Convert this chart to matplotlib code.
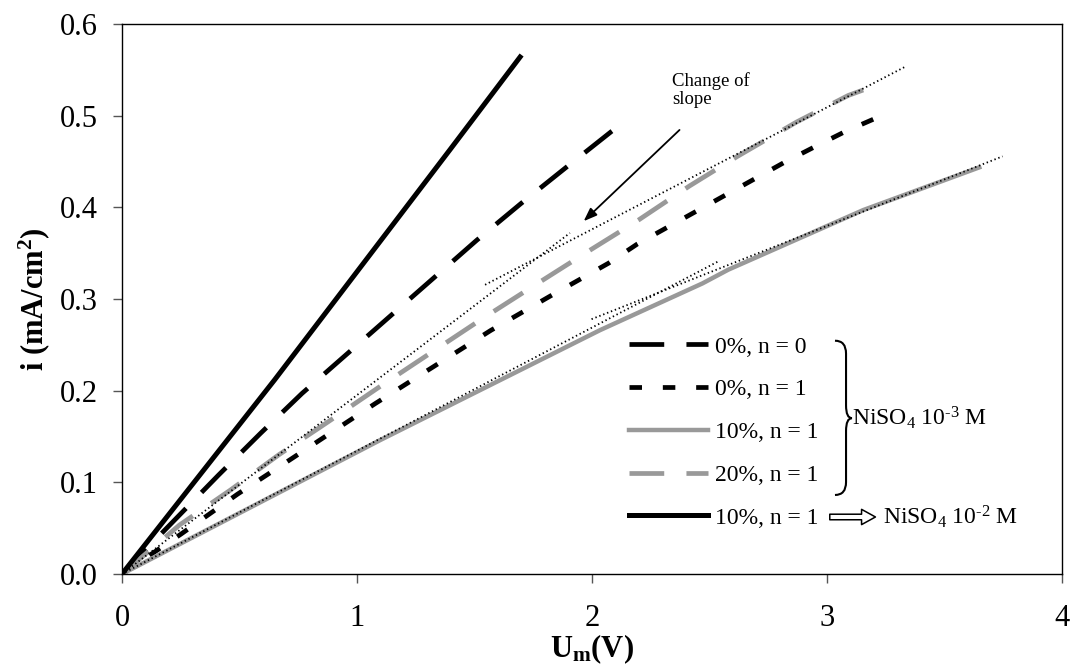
import numpy as np
import matplotlib
matplotlib.use("Agg")
import matplotlib.pyplot as plt
from matplotlib.path import Path
from matplotlib.patches import PathPatch, FancyArrowPatch

plt.rcParams['font.family'] = ['Liberation Serif', 'DejaVu Serif']
plt.rcParams['mathtext.fontset'] = 'custom'
plt.rcParams['mathtext.rm'] = 'Liberation Serif'
plt.rcParams['mathtext.it'] = 'Liberation Serif:italic'
plt.rcParams['mathtext.bf'] = 'Liberation Serif:bold'
plt.rcParams['lines.scale_dashes'] = False

# data (U in V, i in mA/cm2)
U_0_n0 = [0, 0.238, 0.411, 0.590, 0.766, 1.509, 1.697, 1.892, 2.084, 2.148]
i_0_n0 = [0, 0.0626, 0.108, 0.1536, 0.197, 0.364, 0.404, 0.444, 0.483, 0.495]

U_0_n1 = [0, 0.252, 0.491, 0.720, 0.957, 1.078, 1.569, 1.821, 2.070, 2.193, 2.821, 2.952, 3.080, 3.200]
i_0_n1 = [0, 0.0437, 0.087, 0.1255, 0.1656, 0.186, 0.2657, 0.303, 0.339, 0.360, 0.4494, 0.4666, 0.483, 0.4964]

U_10 = [0, 1.098, 2.034, 2.47, 2.58, 3.154, 3.648]
i_10 = [0, 0.146, 0.266, 0.317, 0.332, 0.397, 0.4436]

U_20 = [0, 0.245, 0.462, 0.667, 0.877, 1.089, 1.53, 1.75, 1.99, 2.197, 2.413, 2.615, 2.87, 3.09, 3.154]
i_20 = [0, 0.0535, 0.0917, 0.130, 0.166, 0.203, 0.278, 0.314, 0.353, 0.386, 0.423, 0.455, 0.493, 0.522, 0.528]

U_10_2 = [0, 0.65, 1.396, 1.694]
i_10_2 = [0, 0.212, 0.463, 0.564]

# dotted linear fits (two slopes each)
fit20_U = [[0, 1.906], [1.545, 3.33]]
fit20_i = [[0, 0.372], [0.3155, 0.553]]
fit10_U = [[0, 2.537], [1.998, 3.747]]
fit10_i = [[0, 0.341], [0.278, 0.4556]]

labels = ['0%, n = 0', '0%, n = 1', '10%, n = 1', '20%, n = 1', '10%, n = 1']

grey = '#999999'

fig = plt.figure(figsize=(10.72, 6.66), dpi=100)
ax = fig.add_axes([122/1072, 1-574/666, 940/1072, 550/666])

h1, = ax.plot(U_0_n0, i_0_n0, color='black', lw=3.4, linestyle=(0, (25, 16)))
h2, = ax.plot(U_0_n1, i_0_n1, color='black', lw=3.4, linestyle=(0, (9, 15)))
h3, = ax.plot(U_10, i_10, color=grey, lw=3.2)
h4, = ax.plot(U_20, i_20, color=grey, lw=3.4, linestyle=(0, (25, 16)))
h5, = ax.plot(U_10_2, i_10_2, color='black', lw=3.6)

for uu, ii in zip(fit20_U + fit10_U, fit20_i + fit10_i):
    ax.plot(uu, ii, color='black', lw=1.3, linestyle=(0, (1, 2)))

ax.set_xlim(0, 4)
ax.set_ylim(0, 0.6)
ax.set_xticks([0, 1, 2, 3, 4])
ax.set_yticks(np.arange(0, 0.61, 0.1))
ax.set_yticklabels(['%.1f' % v for v in np.arange(0, 0.61, 0.1)])
ax.tick_params(direction='out', length=6.5, width=1, color='#555555', labelsize=22)
ax.tick_params(axis='y', pad=11)
ax.tick_params(axis='x', pad=15)
for s in ax.spines.values():
    s.set_linewidth(1)

ax.set_xlabel(r'$\mathbf{U_m}$(V)', fontsize=22, fontweight='bold')
ax.xaxis.set_label_coords(0.5, -0.106)
ax.set_ylabel(r'i (mA/cm$^\mathbf{2}$)', fontsize=22, fontweight='bold')
ax.yaxis.set_label_coords(-0.0745, 0.5)

leg = ax.legend([h1, h2, h3, h4, h5], labels, loc='upper left',
                bbox_to_anchor=((629-122)/940, (574-336)/550), frameon=False,
                fontsize=17, handlelength=3.35, handletextpad=0.3,
                labelspacing=0.9, borderpad=0, borderaxespad=0)

# annotation
ax.annotate('', xy=(1.956, 0.3828), xytext=(2.381, 0.4865),
            arrowprops=dict(arrowstyle='-|>,head_length=0.8,head_width=0.3', color='black', lw=1.3))
ax.text(2.34, 0.548, 'Change of\nslope', fontsize=13.5, ha='left', va='top', linespacing=1.15)

# brace grouping the first four series
bx, bw, bt, bb, bm, r = 3.034, 0.047, 0.2545, 0.0862, 0.170, 0.014
verts = [(bx, bt), (bx+bw, bt), (bx+bw, bt-r),
         (bx+bw, bm+r), (bx+bw, bm), (bx+0.072, bm),
         (bx+bw, bm), (bx+bw, bm-r),
         (bx+bw, bb+r), (bx+bw, bb), (bx, bb)]
codes = [Path.MOVETO, Path.CURVE3, Path.CURVE3,
         Path.LINETO, Path.CURVE3, Path.CURVE3,
         Path.CURVE3, Path.CURVE3,
         Path.LINETO, Path.CURVE3, Path.CURVE3]
ax.add_patch(PathPatch(Path(verts, codes), fc='none', ec='black', lw=1.5))
ax.text(3.108, 0.170, r'NiSO$_4$ 10$^{\text{-3}}$ M', fontsize=17, ha='left', va='center')

arr = FancyArrowPatch((3.0, 0.0622), (3.218, 0.0622),
                      arrowstyle='simple,head_length=10,head_width=11,tail_width=4',
                      mutation_scale=1, fc='white', ec='black', lw=1.1)
ax.add_patch(arr)
ax.text(3.24, 0.0622, r'NiSO$_4$ 10$^{\text{-2}}$ M', fontsize=17, ha='left', va='center')

fig.savefig('out.png', dpi=100)
